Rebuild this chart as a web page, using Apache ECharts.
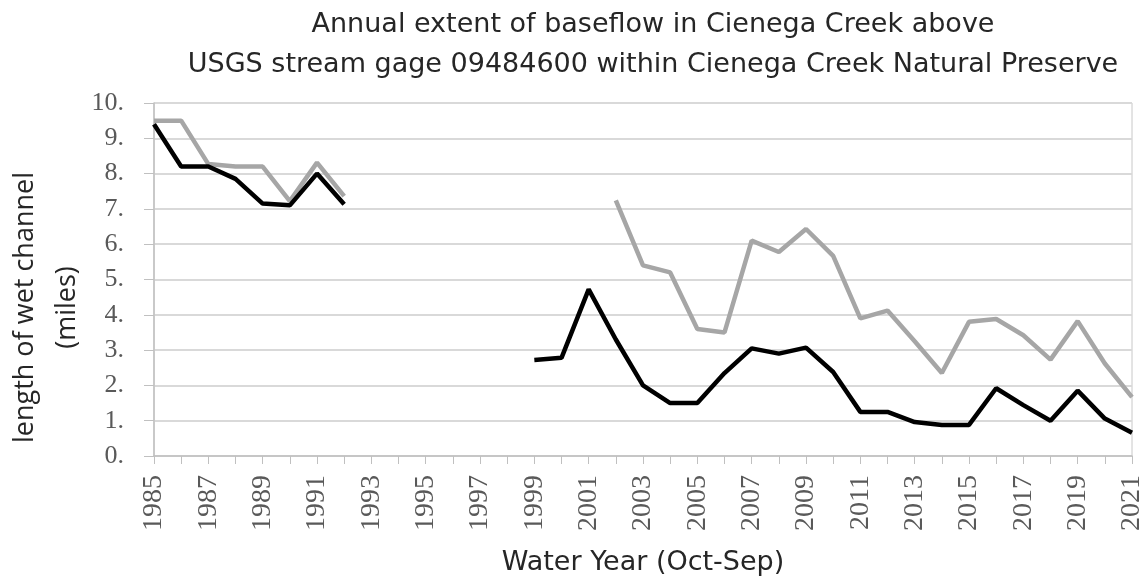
<!DOCTYPE html>
<html>
<head>
<meta charset="utf-8">
<script src="https://cdn.jsdelivr.net/npm/echarts@6/dist/echarts.min.js"></script>
<style>
  html, body { margin: 0; padding: 0; background: #fff; }
  #chart { width: 1144px; height: 578px; }
</style>
</head>
<body>
<div id="chart"></div>
<script>
// water years on the x axis
const years = [];
for (let y = 1985; y <= 2021; y++) years.push(String(y));

// black line (miles), null where there is no data
const blackSeries = [
  9.4, 8.2, 8.2, 7.85, 7.15, 7.1, 8.0, 7.13,
  null, null, null, null, null, null,
  2.72, 2.78, 4.72, 3.3, 2.0, 1.5, 1.5, 2.35, 3.05, 2.9, 3.07, 2.38,
  1.25, 1.25, 0.96, 0.88, 0.88, 1.92, 1.44, 1.0, 1.85, 1.06, 0.66
];

// grey line (miles)
const greySeries = [
  9.5, 9.5, 8.27, 8.2, 8.2, 7.22, 8.31, 7.36,
  null, null, null, null, null, null, null, null, null,
  7.24, 5.4, 5.2, 3.6, 3.5, 6.1, 5.78, 6.43, 5.67,
  3.9, 4.12, 3.25, 2.35, 3.8, 3.88, 3.42, 2.73, 3.82, 2.62, 1.67
];

const chart = echarts.init(document.getElementById("chart"));
chart.setOption({
  animation: false,
  title: {
    text: "Annual extent of baseflow in Cienega Creek above\nUSGS stream gage 09484600 within Cienega Creek Natural Preserve",
    left: 648,
    top: 0,
    textAlign: "center",
    textStyle: {
      fontFamily: "DejaVu Sans",
      fontWeight: "normal",
      fontSize: 27,
      lineHeight: 40,
      color: "#262626"
    }
  },
  grid: {
    left: 154,
    right: 12,
    top: 103,
    bottom: 122,
    outerBoundsMode: "none",
    containLabel: false,
    show: true,
    borderColor: "#c8c8c8",
    borderWidth: 1
  },
  xAxis: {
    type: "category",
    data: years,
    boundaryGap: false,
    name: "Water Year (Oct-Sep)",
    nameLocation: "middle",
    nameGap: 93,
    nameTextStyle: { fontFamily: "DejaVu Sans", fontSize: 27, color: "#262626" },
    axisLine: { lineStyle: { color: "#c0c0c0", width: 1.5 } },
    axisTick: { show: true, interval: 0, length: 8, lineStyle: { color: "#c0c0c0" } },
    axisLabel: {
      interval: 1,
      rotate: 90,
      margin: 19,
      fontFamily: "Liberation Serif",
      fontSize: 28,
      color: "#595959"
    },
    splitLine: { show: false }
  },
  yAxis: {
    type: "value",
    min: 0,
    max: 10,
    interval: 1,
    name: "length of wet channel\n(miles)",
    nameLocation: "middle",
    nameGap: 66,
    nameMoveOverlap: false,
    nameTextStyle: {
      fontFamily: "Open Sans",
      fontSize: 27,
      lineHeight: 42,
      color: "#262626",
      padding: [0, 56, 0, 0]
    },
    axisLine: { show: true, lineStyle: { color: "#c0c0c0", width: 1.5 } },
    axisTick: { show: true, length: 10, lineStyle: { color: "#c0c0c0" } },
    axisLabel: {
      margin: 30,
      fontFamily: "Liberation Serif",
      fontSize: 26,
      color: "#595959",
      formatter: v => v + "."
    },
    splitLine: { lineStyle: { color: "#d9d9d9", width: 2 } }
  },
  series: [
    {
      type: "line",
      data: greySeries,
      symbol: "none",
      connectNulls: false,
      lineStyle: { color: "#a6a6a6", width: 4.5 },
      z: 2
    },
    {
      type: "line",
      data: blackSeries,
      symbol: "none",
      connectNulls: false,
      lineStyle: { color: "#000000", width: 4.5 },
      z: 3
    }
  ]
});
</script>
</body>
</html>
